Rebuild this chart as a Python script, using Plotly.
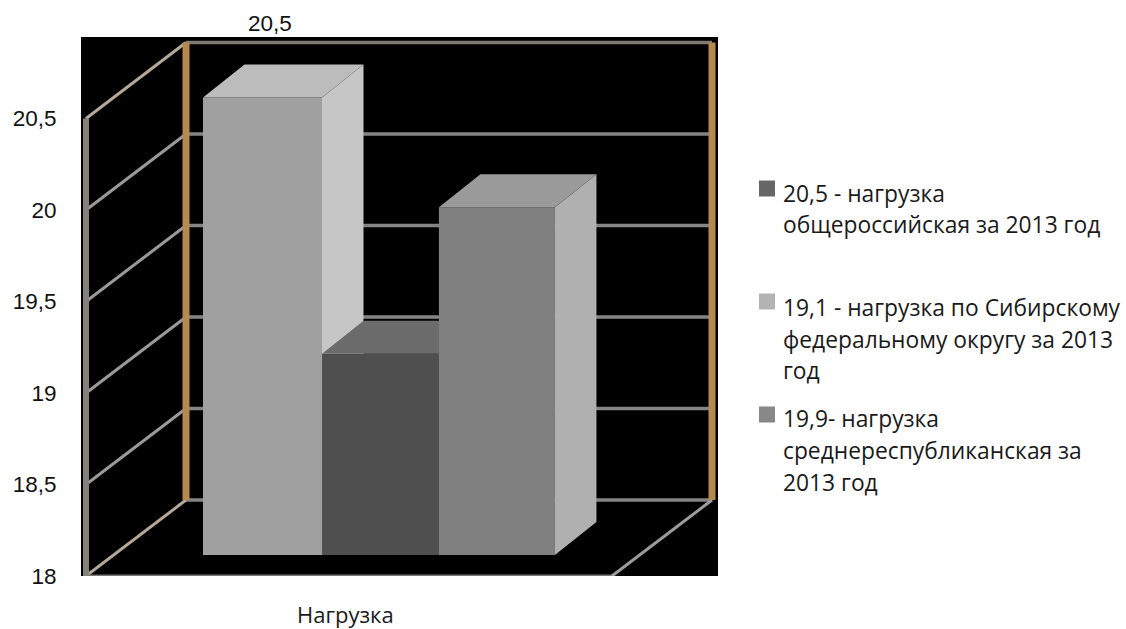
import plotly.graph_objects as go

# --- data ---
BAR_VALUES = [20.5, 19.1, 19.9]
BAR_POS = [0, 0.992, 1.97]
BAR_WIDTHS = [1.0, 0.983, 0.975]
FRONT_COLORS = ["#a0a0a0", "#4f4f4f", "#808080"]
TOP_COLORS = ["#bcbcbc", "#6c6c6c", "#9a9a9a"]
SIDE_COLORS = ["#c6c6c6", "#7a7a7a", "#b0b0b0"]
TICK_VALUES = [18, 18.5, 19, 19.5, 20, 20.5]
TICK_LABELS = ["18", "18,5", "19", "19,5", "20", "20,5"]
DATA_LABEL = "20,5"
CATEGORY = "Нагрузка"
LEGEND_COLORS = ["#666666", "#b3b3b3", "#888888"]
LEGEND_SWATCH_Y = [188.5, 301.5, 414.5]
LEGEND_LINES = [
    ("20,5 - нагрузка", 193),
    ("общероссийская за 2013 год", 225),
    ("19,1 - нагрузка по Сибирскому", 307),
    ("федеральному округу за 2013", 340),
    ("год", 370),
    ("19,9- нагрузка", 418),
    ("среднереспубликанская за", 450),
    ("2013 год", 482),
]

# --- layout geometry ---
W, H = 1126, 629
L, R, T, B = 81, 718, 37, 576
PX_PER_UNIT_Y = 183.0
PX_PER_UNIT_X = 119.0
X_RANGE = [(L - 262.5) / PX_PER_UNIT_X, (R - 262.5) / PX_PER_UNIT_X]
Y_RANGE = [18, 18 + (B - T) / PX_PER_UNIT_Y]
BAR_LIFT = 21 / PX_PER_UNIT_Y
BAR_DX, BAR_DY = 41.5 / PX_PER_UNIT_X, 33 / PX_PER_UNIT_Y
WALL_DX, WALL_DY = 100 / PX_PER_UNIT_X, 76 / PX_PER_UNIT_Y
WALL_X0 = (86 - 262.5) / PX_PER_UNIT_X
WALL_X1 = (612 - 262.5) / PX_PER_UNIT_X


def px(x):
    return x / (R - L) - L / (R - L)


def py(y):
    return (B - y) / (B - T)


fig = go.Figure()


def line(xs, ys, color, width):
    fig.add_trace(go.Scatter(x=xs, y=ys, mode="lines", showlegend=False, hoverinfo="skip",
                             line=dict(color=color, width=width, simplify=False)))


# horizontal grid lines on the back wall and floor back edge
for v in TICK_VALUES:
    c = "#7f7a74" if v == 20.5 else "#858585"
    line([WALL_X0 + WALL_DX, WALL_X1 + WALL_DX], [v + WALL_DY] * 2, c, 3.5)
# diagonal lines on the left wall
for v in TICK_VALUES:
    c = "#b5a898" if v in (18, 20.5) else "#9a9a9a"
    line([WALL_X0, WALL_X0 + WALL_DX], [v, v + WALL_DY], c, 3)
# floor front and right edge
line([WALL_X0, WALL_X1], [18, 18], "#777777", 3)
line([WALL_X1, WALL_X1 + WALL_DX], [18, 18 + WALL_DY], "#9c9c9c", 3)
# verticals
line([WALL_X0, WALL_X0], [18, 20.5], "#85807a", 6)
line([WALL_X0 + WALL_DX] * 2, [18 + WALL_DY, 20.5 + WALL_DY], "#b68a4e", 7)
line([WALL_X1 + WALL_DX] * 2, [18 + WALL_DY, 20.5 + WALL_DY], "#b68a4e", 7)

# one overlaid axis pair per bar so each bar paints over the previous one
for i, (p, v, w) in enumerate(zip(BAR_POS, BAR_VALUES, BAR_WIDTHS)):
    xa, ya = f"x{i + 2}", f"y{i + 2}"
    lo = 18 + BAR_LIFT
    hi = v + BAR_LIFT
    xl, xr = p - w / 2, p + w / 2
    fig.add_trace(go.Bar(x=[p], y=[v - 18], base=[lo], width=[w], xaxis=xa, yaxis=ya,
                         marker=dict(color=FRONT_COLORS[i], line=dict(width=0)),
                         showlegend=False, hovertemplate=f"{v}<extra></extra>"))
    fig.add_trace(go.Scatter(x=[xr, xr + BAR_DX, xr + BAR_DX, xr, xr],
                             y=[lo, lo + BAR_DY, hi + BAR_DY, hi, lo],
                             xaxis=xa, yaxis=ya, mode="lines", fill="toself",
                             fillcolor=SIDE_COLORS[i], line=dict(width=0),
                             showlegend=False, hoverinfo="skip"))
    fig.add_trace(go.Scatter(x=[xl, xr, xr + BAR_DX, xl + BAR_DX, xl],
                             y=[hi, hi, hi + BAR_DY, hi + BAR_DY, hi],
                             xaxis=xa, yaxis=ya, mode="lines", fill="toself",
                             fillcolor=TOP_COLORS[i], line=dict(width=0),
                             showlegend=False, hoverinfo="skip"))

layout_axes = {}
for i in range(len(BAR_VALUES)):
    layout_axes[f"xaxis{i + 2}"] = dict(range=X_RANGE, overlaying="x", visible=False)
    layout_axes[f"yaxis{i + 2}"] = dict(range=Y_RANGE, overlaying="y", visible=False)

AX_FONT = dict(family="Liberation Sans", size=22.5, color="#111111")
CAT_FONT = dict(family="Open Sans", size=22, color="#1a1a1a")
TXT_FONT = dict(family="Open Sans", size=22.8, color="#1a1a1a")

annotations = [
    dict(text=DATA_LABEL, x=px(270), y=py(24), xref="paper", yref="paper", showarrow=False,
         xanchor="center", yanchor="middle", font=AX_FONT),
    dict(text=CATEGORY, x=px(345), y=py(614), xref="paper", yref="paper", showarrow=False,
         xanchor="center", yanchor="middle", font=CAT_FONT),
]
for text, y in LEGEND_LINES:
    annotations.append(dict(text=text, x=px(781), y=py(y), xref="paper", yref="paper", showarrow=False,
                            xanchor="left", yanchor="middle", font=TXT_FONT))

shapes = []
for c, y in zip(LEGEND_COLORS, LEGEND_SWATCH_Y):
    shapes.append(dict(type="rect", xref="paper", yref="paper", x0=px(759), x1=px(775),
                       y0=py(y - 8), y1=py(y + 8), fillcolor=c, line=dict(width=0)))

fig.update_layout(
    width=W, height=H, margin=dict(l=L, r=W - R, t=T, b=H - B, pad=0),
    paper_bgcolor="white", plot_bgcolor="black", showlegend=False, barmode="overlay",
    xaxis=dict(range=X_RANGE, visible=False),
    yaxis=dict(range=Y_RANGE, tickvals=TICK_VALUES, ticktext=TICK_LABELS, tickfont=AX_FONT,
               ticks="outside", ticklen=19, tickcolor="rgba(0,0,0,0)", showgrid=False,
               zeroline=False, showline=False),
    annotations=annotations, shapes=shapes, **layout_axes,
)

fig.write_html("out.html", config={"displayModeBar": False},
               post_script="document.body.style.margin='0';")
